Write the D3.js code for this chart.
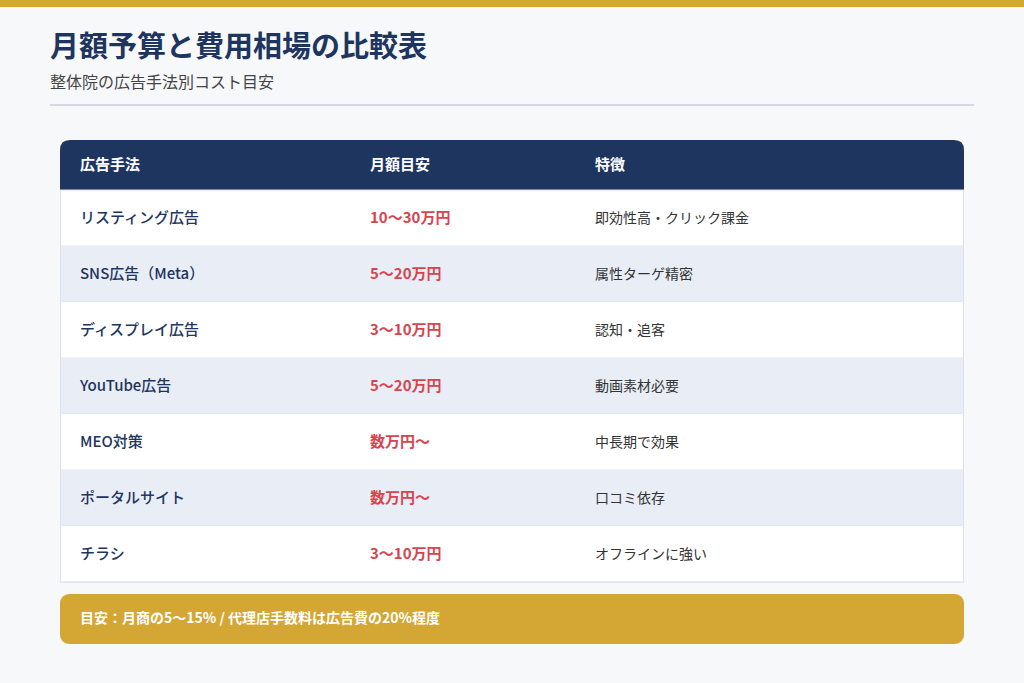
<!DOCTYPE html>
<html><head><meta charset="utf-8">
<script src="https://cdn.jsdelivr.net/npm/d3@7"></script>
<style>body{margin:0;background:#F7F8FA;}</style>
</head><body>
<svg id="c" width="1024" height="683"></svg>
<script>
const headers = ["広告手法", "月額目安", "特徴"];
const methods = ["リスティング広告", "SNS広告（Meta）", "ディスプレイ広告", "YouTube広告", "MEO対策", "ポータルサイト", "チラシ"];
const costs = ["10〜30万円", "5〜20万円", "3〜10万円", "5〜20万円", "数万円〜", "数万円〜", "3〜10万円"];
const features = ["即効性高・クリック課金", "属性ターゲ精密", "認知・追客", "動画素材必要", "中長期で効果", "口コミ依存", "オフラインに強い"];
const title = "月額予算と費用相場の比較表";
const subtitle = "整体院の広告手法別コスト目安";
const note = "目安：月商の5〜15% / 代理店手数料は広告費の20%程度";

const font = "'Noto Sans CJK JP','Noto Sans',sans-serif";
const svg = d3.select("#c").style("font-family", font);
svg.append("rect").attr("width",1024).attr("height",683).attr("fill","#F7F8FA");
svg.append("rect").attr("width",1024).attr("height",7).attr("fill","#D4A634");
svg.append("text").attr("x",50).attr("y",57).text(title).attr("font-size",29).attr("font-weight",700).attr("fill","#1E3560");
svg.append("text").attr("x",50).attr("y",88).text(subtitle).attr("font-size",16).attr("fill","#444");
svg.append("line").attr("x1",50).attr("x2",974).attr("y1",105).attr("y2",105).attr("stroke","#D3D8E2").attr("stroke-width",2);

const x0=60, x1=964, hTop=140, hH=50, rowH=56;
const colX=[80,370,595];
const y = d3.scaleBand().domain(d3.range(methods.length)).range([hTop+hH, hTop+hH+rowH*methods.length]);

// header
svg.append("path").attr("fill","#1E3560")
  .attr("d",`M${x0},${hTop+hH}V${hTop+10}Q${x0},${hTop} ${x0+10},${hTop}H${x1-10}Q${x1},${hTop} ${x1},${hTop+10}V${hTop+hH}Z`);
svg.selectAll(".h").data(headers).enter().append("text").attr("x",(d,i)=>colX[i]).attr("y",hTop+hH/2+5)
  .text(d=>d).attr("font-size",15).attr("font-weight",700).attr("fill","#fff");

const rows = svg.selectAll(".r").data(methods).enter().append("g").attr("transform",(d,i)=>`translate(0,${y(i)})`);
rows.append("rect").attr("x",x0).attr("width",x1-x0).attr("height",y.bandwidth())
  .attr("fill",(d,i)=>i%2?"#E9EEF6":"#FFFFFF");
rows.append("line").attr("x1",x0).attr("x2",x1).attr("y1",y.bandwidth()).attr("y2",y.bandwidth()).attr("stroke","#DDE2EA");
rows.append("text").attr("x",colX[0]).attr("y",y.bandwidth()/2+5).text(d=>d).attr("font-size",15).attr("font-weight",500).attr("fill","#1E3560");
rows.append("text").attr("x",colX[1]).attr("y",y.bandwidth()/2+5).text((d,i)=>costs[i]).attr("font-size",15).attr("font-weight",700).attr("fill","#D9434F");
rows.append("text").attr("x",colX[2]).attr("y",y.bandwidth()/2+5).text((d,i)=>features[i]).attr("font-size",14).attr("fill","#333");
svg.append("rect").attr("x",x0+0.5).attr("y",hTop+hH).attr("width",x1-x0-1).attr("height",rowH*methods.length)
  .attr("fill","none").attr("stroke","#DDE2EA");

const fy = hTop+hH+rowH*methods.length+12;
svg.append("rect").attr("x",x0).attr("y",fy).attr("width",x1-x0).attr("height",50).attr("rx",9).attr("fill","#D4A634");
svg.append("text").attr("x",80).attr("y",fy+29).text(note).attr("font-size",14).attr("font-weight",700).attr("fill","#fff");
</script>
</body></html>
